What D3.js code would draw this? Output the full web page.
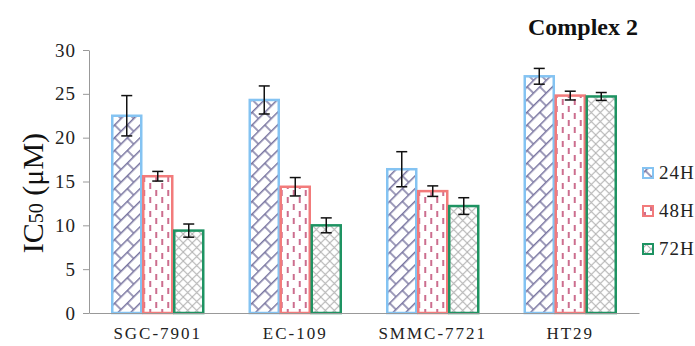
<!DOCTYPE html>
<html>
<head>
<meta charset="utf-8">
<script src="https://cdn.jsdelivr.net/npm/d3@7"></script>
<style>
  body { margin: 0; background: #fff; }
  svg { display: block; }
</style>
</head>
<body>
<div id="chart"></div>
<script>
// data
const categories = ['SGC-7901', 'EC-109', 'SMMC-7721', 'HT29'];
const seriesNames = ['24H', '48H', '72H'];
const values24 = [22.5, 24.3, 16.4, 27.0];
const values48 = [15.6, 14.4, 13.9, 24.8];
const values72 = [9.4, 10.0, 12.2, 24.7];
const errors24 = [2.3, 1.6, 2.0, 0.9];
const errors48 = [0.55, 1.05, 0.6, 0.5];
const errors72 = [0.75, 0.85, 0.95, 0.45];
const yTicks = [0, 5, 10, 15, 20, 25, 30];

const width = 695, height = 346;
const margin = {left: 89, right: 56, top: 50, bottom: 33};

const svg = d3.select('#chart').append('svg')
    .attr('width', width)
    .attr('height', height);

const defs = svg.append('defs');

// 24H: diagonal brick hatch
const brick = defs.append('pattern')
    .attr('id', 'p24')
    .attr('patternUnits', 'userSpaceOnUse')
    .attr('width', 18).attr('height', 18)
    .attr('patternTransform', 'rotate(-45)');
brick.append('rect').attr('width', 18).attr('height', 18).attr('fill', '#fff');
brick.append('path')
    .attr('d', 'M0,0.7H18M0,9.7H18M4,0.7V9.7M13,9.7V18.7')
    .attr('stroke', '#77739f').attr('stroke-width', 1.4).attr('fill', 'none');

// 48H: vertical dashes
const dash = defs.append('pattern')
    .attr('id', 'p48')
    .attr('patternUnits', 'userSpaceOnUse')
    .attr('width', 12).attr('height', 14);
dash.append('rect').attr('width', 12).attr('height', 14).attr('fill', '#fff');
dash.append('path')
    .attr('d', 'M3,1V7M9,8V14')
    .attr('stroke', '#c04a73').attr('stroke-width', 1.6).attr('fill', 'none');

// 72H: crosshatch
const cross = defs.append('pattern')
    .attr('id', 'p72')
    .attr('patternUnits', 'userSpaceOnUse')
    .attr('width', 9).attr('height', 9);
cross.append('rect').attr('width', 9).attr('height', 9).attr('fill', '#fff');
cross.append('path')
    .attr('d', 'M0,0L9,9M9,0L0,9')
    .attr('stroke', '#b3b3b3').attr('stroke-width', 1.1).attr('fill', 'none');

const series = [
    {name: seriesNames[0], values: values24, errors: errors24, stroke: '#84c3f2', fill: 'url(#p24)'},
    {name: seriesNames[1], values: values48, errors: errors48, stroke: '#f27b7b', fill: 'url(#p48)'},
    {name: seriesNames[2], values: values72, errors: errors72, stroke: '#1e9362', fill: 'url(#p72)'}
];

const x = d3.scaleBand()
    .domain(categories)
    .range([margin.left, width - margin.right])
    .padding(0);

const groupWidth = 93;
const xInner = d3.scaleBand()
    .domain(seriesNames)
    .range([0, groupWidth]);

const y = d3.scaleLinear()
    .domain([0, 30])
    .range([height - margin.bottom, margin.top]);

// bars
const groups = svg.append('g').attr('class', 'bars')
    .selectAll('g')
    .data(categories)
    .join('g')
    .attr('transform', d => `translate(${x(d) + (x.bandwidth() - groupWidth) / 2},0)`);

groups.selectAll('rect')
    .data((c, i) => series.map(s => ({s, v: s.values[i], e: s.errors[i]})))
    .join('rect')
    .attr('x', d => xInner(d.s.name) + 1)
    .attr('y', d => y(d.v))
    .attr('width', xInner.bandwidth() - 2)
    .attr('height', d => y(0) - y(d.v))
    .attr('fill', d => d.s.fill)
    .attr('stroke', d => d.s.stroke)
    .attr('stroke-width', 2.5);

// error bars
const err = groups.selectAll('g.err')
    .data((c, i) => series.map(s => ({s, v: s.values[i], e: s.errors[i]})))
    .join('g')
    .attr('class', 'err')
    .attr('stroke', '#111')
    .attr('stroke-width', 1.5);

err.append('line')
    .attr('x1', d => xInner(d.s.name) + xInner.bandwidth() / 2)
    .attr('x2', d => xInner(d.s.name) + xInner.bandwidth() / 2)
    .attr('y1', d => y(d.v + d.e))
    .attr('y2', d => y(d.v - d.e));
err.selectAll('line.cap')
    .data(d => [d.v + d.e, d.v - d.e].map(val => ({d, val})))
    .join('line')
    .attr('class', 'cap')
    .attr('x1', o => xInner(o.d.s.name) + xInner.bandwidth() / 2 - 5.5)
    .attr('x2', o => xInner(o.d.s.name) + xInner.bandwidth() / 2 + 5.5)
    .attr('y1', o => y(o.val))
    .attr('y2', o => y(o.val));

// axes
const yAxis = svg.append('g')
    .attr('transform', `translate(${margin.left},0)`)
    .call(d3.axisLeft(y).tickValues(yTicks).tickSize(6).tickSizeOuter(0));
yAxis.select('.domain').attr('stroke', '#999');
yAxis.selectAll('.tick line').attr('stroke', '#999');
yAxis.selectAll('.tick text')
    .attr('x', -13)
    .attr('fill', '#222')
    .style('font-family', '"Liberation Serif", serif')
    .style('font-size', '19px')
    .style('letter-spacing', '1px');

const xAxis = svg.append('g')
    .attr('transform', `translate(0,${y(0)})`)
    .call(d3.axisBottom(x).tickSize(0).tickSizeOuter(0));
xAxis.select('.domain').attr('stroke', '#999');
xAxis.selectAll('.tick text')
    .attr('y', 14)
    .attr('fill', '#222')
    .style('font-family', '"Liberation Serif", serif')
    .style('font-size', '17px')
    .style('letter-spacing', '2px');

// y-axis title
const yTitle = svg.append('text')
    .attr('transform', 'translate(43,193) rotate(-90)')
    .attr('text-anchor', 'middle')
    .style('font-family', '"Liberation Serif", serif')
    .style('font-size', '30px')
    .attr('fill', '#111');
yTitle.append('tspan').text('IC');
yTitle.append('tspan').attr('font-size', '20px').text('50');
yTitle.append('tspan').text(' (μM)');

// chart title
svg.append('text')
    .attr('x', 583)
    .attr('y', 35)
    .attr('text-anchor', 'middle')
    .style('font-family', '"Liberation Serif", serif')
    .style('font-weight', 'bold')
    .style('font-size', '24px')
    .attr('fill', '#111')
    .text('Complex 2');

// legend
const legend = svg.append('g')
    .selectAll('g')
    .data(series)
    .join('g')
    .attr('transform', (d, i) => `translate(642,${173 + i * 38})`);
legend.append('rect')
    .attr('x', 1).attr('y', -5)
    .attr('width', 10).attr('height', 10)
    .attr('fill', d => d.fill)
    .attr('stroke', d => d.stroke)
    .attr('stroke-width', 2);
legend.append('text')
    .attr('x', 17)
    .attr('y', 6)
    .style('font-family', '"Liberation Serif", serif')
    .style('font-size', '19px')
    .style('letter-spacing', '1px')
    .attr('fill', '#222')
    .text(d => d.name);
</script>
</body>
</html>
